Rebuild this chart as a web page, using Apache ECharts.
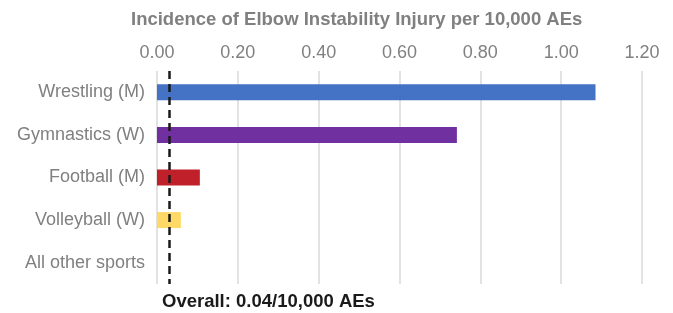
<!DOCTYPE html>
<html>
<head>
<meta charset="utf-8">
<script src="https://cdn.jsdelivr.net/npm/echarts@6/dist/echarts.min.js"></script>
<style>
  html, body { margin: 0; padding: 0; background: #fff; }
  #chart { width: 673px; height: 313px; }
</style>
</head>
<body>
<div id="chart"></div>
<script>
'use strict';

// values
var sports = ['Wrestling (M)', 'Gymnastics (W)', 'Football (M)', 'Volleyball (W)', 'All other sports'];
var incidence = [1.085, 0.742, 0.106, 0.059, 0];
var barColors = ['#4472C4', '#7030A0', '#C0202A', '#FFD966', '#A5A5A5'];
var overallLine = 0.033;
var overallText = 'Overall: 0.04/10,000 AEs';

var font = '"Liberation Sans", Arial, sans-serif';
var grey = '#808080';

var chart = echarts.init(document.getElementById('chart'));

chart.setOption({
  animation: false,
  textStyle: { fontFamily: font },
  title: {
    text: 'Incidence of Elbow Instability Injury per 10,000 AEs',
    left: 126,
    top: 5,
    textStyle: { fontFamily: font, fontSize: 18.5, fontWeight: 'bold', color: grey }
  },
  grid: { left: 157, right: 31, top: 71, bottom: 29, containLabel: false },
  xAxis: {
    type: 'value',
    position: 'top',
    min: 0,
    max: 1.2,
    interval: 0.2,
    axisLine: { show: false },
    axisTick: { show: false },
    axisLabel: {
      color: grey,
      fontSize: 18,
      margin: 9,
      formatter: function(v) { return v.toFixed(2); }
    },
    splitLine: { lineStyle: { color: '#d9d9d9', width: 1.5 } }
  },
  yAxis: {
    type: 'category',
    inverse: true,
    data: sports,
    axisLine: { show: false },
    axisTick: { show: false },
    axisLabel: { color: grey, fontSize: 18, margin: 12 }
  },
  series: [{
    type: 'bar',
    barWidth: 16,
    data: incidence.map(function(v, i) {
      return { value: v, itemStyle: { color: barColors[i] } };
    }),
    markLine: {
      silent: true,
      symbol: 'none',
      label: { show: false },
      lineStyle: { color: '#1a1a1a', width: 2.5, type: [8, 5] },
      data: [{ xAxis: overallLine }]
    }
  }],
  graphic: [{
    type: 'text',
    left: 162,
    top: 292,
    style: {
      text: overallText,
      font: 'bold 18.5px ' + font,
      fill: '#1a1a1a'
    }
  }]
});
</script>
</body>
</html>
